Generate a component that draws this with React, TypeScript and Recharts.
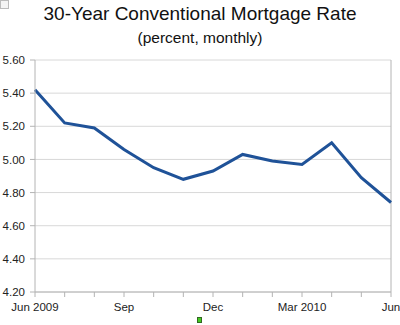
import React from 'react';
import { LineChart, Line, XAxis, YAxis, CartesianGrid, ReferenceLine } from 'recharts';

const months = ['Jun 2009', 'Jul 2009', 'Aug 2009', 'Sep 2009', 'Oct 2009', 'Nov 2009', 'Dec 2009', 'Jan 2010', 'Feb 2010', 'Mar 2010', 'Apr 2010', 'May 2010', 'Jun 2010'];
const rates = [5.42, 5.22, 5.19, 5.06, 4.95, 4.88, 4.93, 5.03, 4.99, 4.97, 5.10, 4.89, 4.74];
const xTickLabels = ['Jun 2009', '', '', 'Sep', '', '', 'Dec', '', '', 'Mar 2010', '', '', 'Jun'];
const yTicks = [4.2, 4.4, 4.6, 4.8, 5.0, 5.2, 5.4, 5.6];

const data = months.map((m, i) => ({ month: m, rate: rates[i] }));

const FONT = '"Liberation Sans", Arial, sans-serif';
const AXIS = '#b4b4b4';

export default function App() {
  return (
    <div style={{ position: 'absolute', left: 0, top: 0, width: 400, height: 325, background: '#fff', overflow: 'hidden', fontFamily: FONT }}>
      <div style={{ position: 'absolute', left: 0, top: 0, width: 9, height: 9, border: '1px solid #bbb', boxSizing: 'border-box', background: '#f4f4f4' }} />
      <div style={{ position: 'absolute', left: 0, top: 3, width: 400, textAlign: 'center', fontSize: 19, color: '#111', lineHeight: '22px' }}>
        30-Year Conventional Mortgage Rate
      </div>
      <div style={{ position: 'absolute', left: 0, top: 29, width: 400, textAlign: 'center', fontSize: 15.5, color: '#111', lineHeight: '18px' }}>
        (percent, monthly)
      </div>
      <div style={{ position: 'absolute', left: 0, top: 0 }}>
        <LineChart width={400} height={325} data={data} margin={{ top: 60, right: 9, bottom: 3, left: 0 }}>
          <CartesianGrid vertical={false} stroke="#d8d8d8" strokeWidth={1} />
          <XAxis
            dataKey="month"
            height={30}
            interval={0}
            tickFormatter={(_v: string, i: number) => xTickLabels[i]}
            tick={{ fontSize: 11.5, fill: '#222', fontFamily: FONT }}
            tickSize={5}
            tickMargin={6}
            axisLine={{ stroke: AXIS }}
            tickLine={{ stroke: AXIS }}
          />
          <YAxis
            width={35}
            domain={[4.2, 5.6]}
            ticks={yTicks}
            tickFormatter={(v: number) => v.toFixed(2)}
            tick={{ fontSize: 11.5, fill: '#222', fontFamily: FONT }}
            tickSize={5}
            tickMargin={5}
            axisLine={{ stroke: AXIS }}
            tickLine={{ stroke: AXIS }}
            allowDataOverflow
          />
          <ReferenceLine x={months[months.length - 1]} stroke={AXIS} />
          <Line type="linear" dataKey="rate" stroke="#1f5298" strokeWidth={3} dot={false} isAnimationActive={false} />
        </LineChart>
      </div>
      <div style={{ position: 'absolute', left: 197, top: 317, width: 5, height: 6, background: '#44cc22', border: '1px solid #336622', boxSizing: 'border-box' }} />
    </div>
  );
}
